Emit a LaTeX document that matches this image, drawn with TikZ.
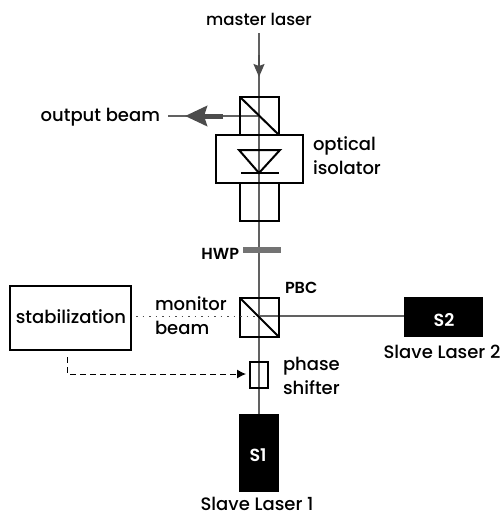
\documentclass[tikz,border=0pt]{standalone}
\usepackage{fontspec}
\setmainfont{Poppins Medium}
\newfontfamily\semifont{Poppins SemiBold}
\usetikzlibrary{arrows.meta,calc}
\tikzset{
  optbox/.style={draw=black,line width=2pt,fill=none,inner sep=0pt,outer sep=0pt,anchor=north west},
  laser/.style={fill=black,draw=black,inner sep=0pt,outer sep=0pt,anchor=north west},
  lasertext/.style={inner sep=0pt,outer sep=0pt,anchor=base,text=white,font=\semifont\fontsize{17.5}{19}\selectfont},
  tlabel/.style={inner sep=0pt,outer sep=0pt,anchor=base west,text=black,font=\fontsize{18}{20}\selectfont},
  beam/.style={draw=black!62,line width=1.2pt},
  thick line/.style={draw=black,line width=2pt},
}
\begin{document}
\begin{tikzpicture}[x=1pt,y=-1pt]
\useasboundingbox (0,0) rectangle (503,512);
% beam anchors
\coordinate (top) at (259,33);
\coordinate (outend) at (168,116);
\coordinate (cross1) at (259,116);
\coordinate (cross2) at (259,316);
\coordinate (smalltail) at (259,55);
\coordinate (smalltip) at (259,77);
\coordinate (bigtail) at (223,116);
\coordinate (bigtip) at (185,116);
% lasers
\node[laser,minimum width=39pt,minimum height=77pt] (s1) at (239,414) {};
\node[laser,minimum width=78pt,minimum height=39pt] (s2) at (404,297) {};
\node[lasertext] (ts1in) at (258,461) {S1};
\node[lasertext] (ts2in) at (444,326) {S2};
% beams
\draw[beam] (top) -- (top |- s1.north);
\draw[beam] (outend) -- (cross1);
\draw[beam] (cross2) -- (s2.west |- cross2);
\draw[draw=black!70,line width=1.6pt,-{Stealth[length=13pt,width=11pt,inset=2pt]}] (smalltail) -- (smalltip);
\draw[draw=black!70,line width=5pt,-{Stealth[length=22pt,width=20pt,inset=3pt]}] (bigtail) -- (bigtip);
% upper cube, isolator, lower box
\node[optbox,minimum width=39pt,minimum height=38pt] (cube1) at (240,97) {};
\draw[thick line] (cube1.north west) -- (cube1.south east);
\node[optbox,minimum width=87pt,minimum height=48pt] (iso) at (216,135) {};
\node[optbox,minimum width=39pt,minimum height=38pt] (lower) at (240,183) {};
\coordinate (tl) at (239,150);
\coordinate (tr) at (280,150);
\coordinate (ta) at (259,173);
\coordinate (bl) at (241,173);
\coordinate (br) at (279,173);
\draw[thick line,line join=miter] (tl) -- (tr) -- (ta) -- cycle;
\draw[thick line] (bl) -- (br);
% HWP
\coordinate (hl) at (243,250);
\coordinate (hr) at (281,250);
\draw[draw=black!55,line width=6pt] (hl) -- (hr);
% PBC cube
\node[optbox,minimum width=39pt,minimum height=39pt] (pbc) at (240,298) {};
\draw[thick line] (pbc.north west) -- (pbc.south east);
% stabilization
\node[optbox,minimum width=121pt,minimum height=64pt] (stab) at (10,286) {};
\node[tlabel,anchor=base] (tstab) at (71,323) {stabilization};
% phase shifter
\node[optbox,minimum width=18pt,minimum height=26pt] (ps) at (250,362) {};
% control
\coordinate (mstart) at (136,316);
\draw[black!70,line width=0.9pt,dash pattern=on 1.5pt off 5pt] (mstart) -- (cross2);
\coordinate (dstart) at (67,357);
\coordinate (dcorner) at (67,374);
\draw[black,line width=1pt,dash pattern=on 6pt off 4pt,shorten >=4pt,-{Latex[length=9pt,width=9pt,sep=0pt]}] (dstart) -- (dcorner) -- (dcorner -| ps.west);
% labels
\node[tlabel,anchor=base,font=\fontsize{16.6}{18}\selectfont] (tmaster) at (259,25) {master laser};
\node[tlabel,anchor=base east] (toutput) at (160,121) {output beam};
\node[tlabel] (topt) at (313,150) {optical};
\node[tlabel] (tiso) at (313,174) {isolator};
\node[tlabel,anchor=base east,font=\semifont\fontsize{16}{18}\selectfont] (thwp) at (239,259) {HWP};
\node[tlabel,font=\semifont\fontsize{16}{18}\selectfont] (tpbc) at (285,293) {PBC};
\node[tlabel] (tmon) at (155,310) {monitor};
\node[tlabel] (tbeam) at (155,334) {beam};
\node[tlabel] (tph) at (283,370) {phase};
\node[tlabel] (tsh) at (283,394) {shifter};
\node[tlabel,anchor=base] (ts2) at (442,358) {Slave Laser 2};
\node[tlabel,anchor=base] (ts1) at (257,510) {Slave Laser 1};
\end{tikzpicture}
\end{document}
